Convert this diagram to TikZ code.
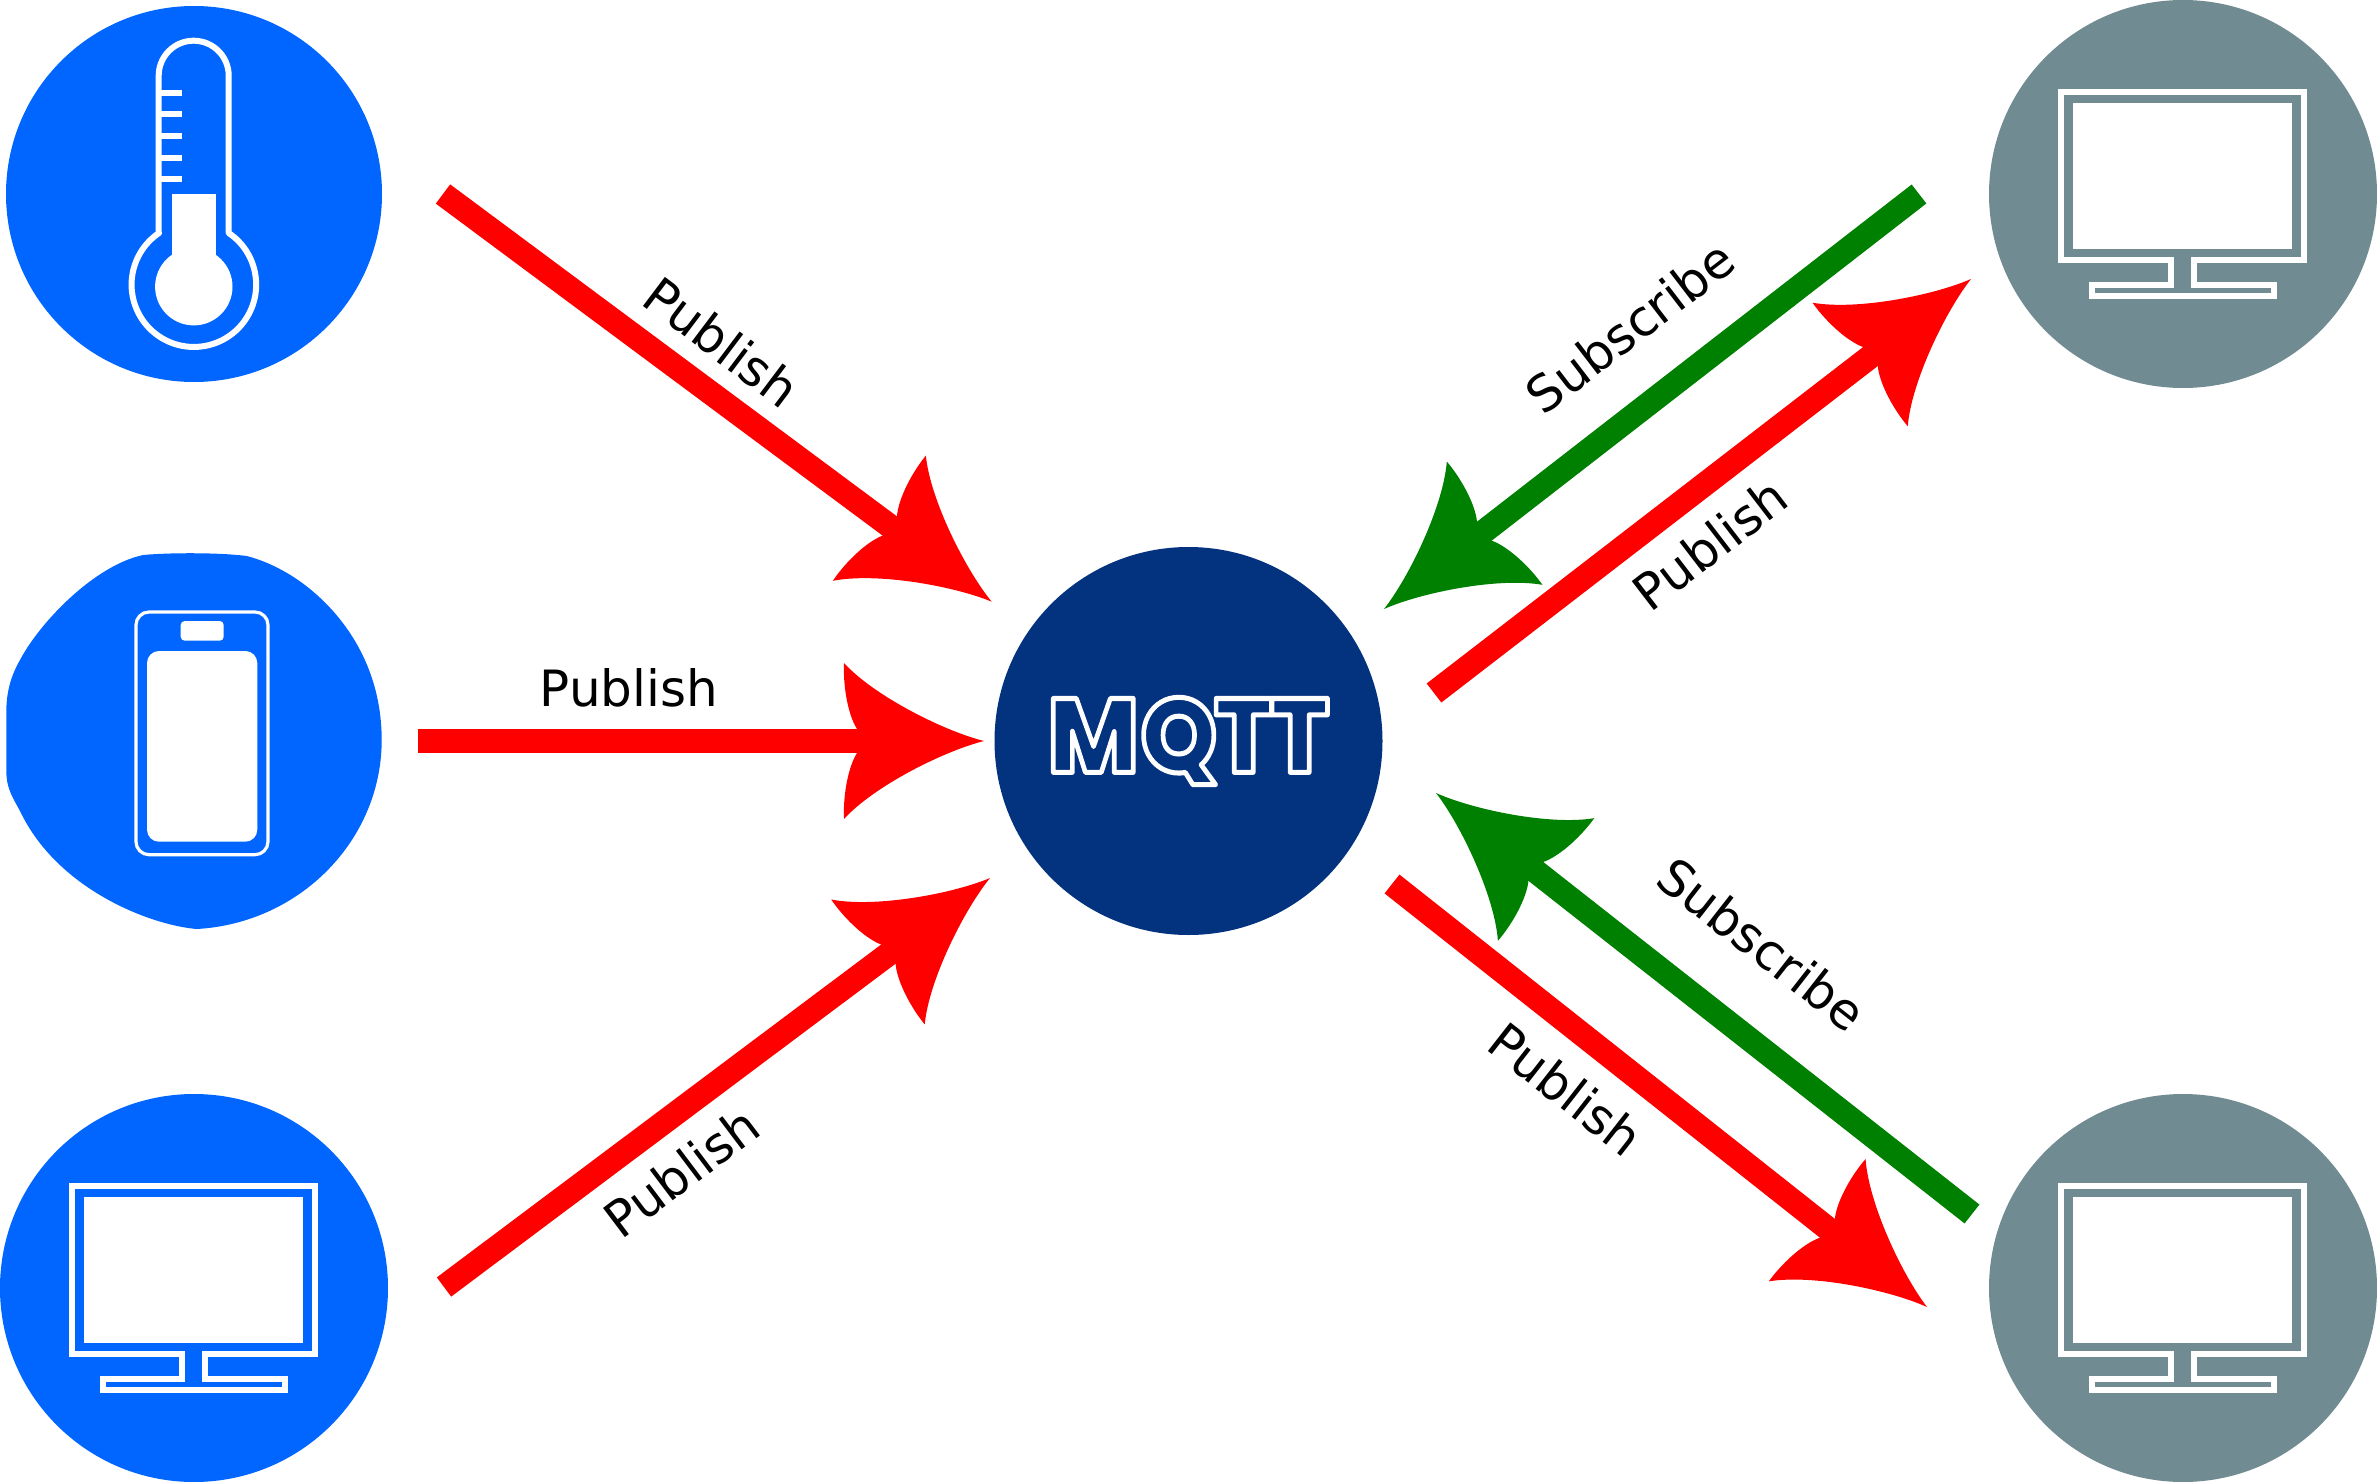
\documentclass[tikz,border=0pt]{standalone}
\usepackage{fontspec}
\setmainfont{DejaVu Sans}
\newfontfamily\mqfont{Poppins ExtraBold}
\usetikzlibrary{arrows.meta}
\definecolor{devblue}{HTML}{0066FF}
\definecolor{hostgrey}{HTML}{718B92}
\definecolor{brokerblue}{HTML}{03337F}
\definecolor{subgreen}{HTML}{008000}
\pgfdeclarearrow{
  name=MQ,
  cache=false,
  bending mode=none,
  setup code={
    \pgfarrowssettipend{0pt}
    \pgfarrowssetlineend{-122pt}
    \pgfarrowssetbackend{-140pt}
  },
  drawing code={
    \pgfsetfillcolor{pgfstrokecolor}
    \pgfpathmoveto{\pgfqpoint{0pt}{0pt}}
    \pgfpathcurveto{\pgfqpoint{-40pt}{10pt}}{\pgfqpoint{-110pt}{45pt}}{\pgfqpoint{-140pt}{78pt}}
    \pgfpathcurveto{\pgfqpoint{-141pt}{58pt}}{\pgfqpoint{-137pt}{28pt}}{\pgfqpoint{-127pt}{12pt}}
    \pgfpathlineto{\pgfqpoint{-127pt}{-12pt}}
    \pgfpathcurveto{\pgfqpoint{-137pt}{-28pt}}{\pgfqpoint{-141pt}{-58pt}}{\pgfqpoint{-140pt}{-78pt}}
    \pgfpathcurveto{\pgfqpoint{-110pt}{-45pt}}{\pgfqpoint{-40pt}{-10pt}}{\pgfqpoint{0pt}{0pt}}
    \pgfpathclose
    \pgfusepathqfill
  }
}
\newcommand{\outlined}[1]{\special{pdf:code q 1 Tr 5.2 w 1 J 1 j 1 1 1 RG}#1\special{pdf:code Q}}
\tikzset{
  x=1pt,y=1pt,
  disc/.style={circle,fill=#1,draw=none,minimum size=388pt,inner sep=0pt,outer sep=0pt},
  pub/.style={draw=red,line width=24pt,-{MQ}},
  sub/.style={draw=subgreen,line width=24pt,-{MQ}},
  lab/.style={inner sep=0pt,font=\fontsize{50}{50}\selectfont,text=black},
  iconline/.style={draw=white,line width=6pt,fill=none,miter limit=10},
  monitor/.pic={
    \draw[iconline] (-122,101.7) -- (121.3,101.7) -- (121.3,-65.7) -- (11.3,-65.7) -- (11.3,-90.7)
      -- (91,-90.7) -- (91,-102.3) -- (-91,-102.3) -- (-91,-90.7) -- (-12,-90.7) -- (-12,-65.7)
      -- (-122,-65.7) -- cycle;
    \fill[white] (-109.7,91.3) rectangle (109.3,-55);
  }
}
\begin{document}
\begin{tikzpicture}
\useasboundingbox (0,0) rectangle (2377,-1482);

% device and host discs
\node[disc=devblue,minimum size=376pt] (sensor) at (194,-194) {};
\fill[devblue] (143.3,-555) .. controls (170,-552.5) and (220,-552.5) .. (246.7,-556)
  .. controls (262,-560) and (275,-566) .. (287,-573)
  .. controls (325,-595) and (381.7,-650) .. (381.7,-740)
  .. controls (381.7,-840) and (300,-923.3) .. (196.7,-929)
  .. controls (150,-925) and (60,-890) .. (22,-815)
  .. controls (13,-797) and (6.3,-790) .. (6.3,-770)
  -- (6.3,-712)
  .. controls (6.3,-690) and (12,-674) .. (20,-660)
  .. controls (40,-622) and (95,-565) .. (143.3,-555) -- cycle;
\node[inner sep=0pt,minimum size=1pt] (phone) at (194,-741) {};
\node[disc=devblue,minimum size=388pt] (desktop) at (194,-1288) {};
\node[disc=hostgrey] (hostA) at (2183,-194) {};
\node[disc=hostgrey] (hostB) at (2183,-1288) {};
\node[disc=brokerblue] (broker) at (1188.5,-741) {\raisebox{-4pt}{\fontsize{108}{108}\selectfont\mqfont\scalebox{0.9}[0.97]{\outlined{M\kern2pt Q\kern-3pt T\kern-3pt T}}}};

% thermometer icon
\draw[iconline,line join=round] (158.7,-233) -- (158.7,-75.7) arc (180:0:35pt) -- (228.7,-233) arc (56:-236:62.3pt) -- cycle;
\foreach \ty in {93,114.3,136,157.7,179} \fill[white] (161,-\ty-3) rectangle (182,-\ty+3);
\fill[white] (172,-194) rectangle (215.7,-260);
\fill[white] (193.8,-286.7) circle (38.7pt);

% phone icon
\draw[draw=white,line width=3.2pt,rounded corners=13pt] (136,-612) rectangle (268,-854.7);
\fill[white,rounded corners=12pt] (147,-651) rectangle (257.3,-841.7);
\fill[white,rounded corners=4pt] (180.7,-621) rectangle (223.7,-640.7);

% monitor icons
\pic at (desktop) {monitor};
\pic at (hostA) {monitor};
\pic at (hostB) {monitor};

% connector ends
\coordinate (s1) at (443,-194);  \coordinate (t1) at (991.7,-601.7);
\coordinate (s2) at (418,-741);  \coordinate (t2) at (984,-741);
\coordinate (s3) at (444,-1287); \coordinate (t3) at (990,-878);
\coordinate (s4) at (1919,-194); \coordinate (t4) at (1384,-609);
\coordinate (s5) at (1434,-693); \coordinate (t5) at (1971,-279);
\coordinate (s6) at (1972,-1214);\coordinate (t6) at (1436,-793);
\coordinate (s7) at (1392,-884); \coordinate (t7) at (1927,-1307);

\draw[pub] (s1) -- (t1);
\draw[pub] (s2) -- (t2);
\draw[pub] (s3) -- (t3);
\draw[sub] (s4) -- (t4);
\draw[pub] (s5) -- (t5);
\draw[sub] (s6) -- (t6);
\draw[pub] (s7) -- (t7);

% labels
\node[lab,rotate=-37] (l1) at (722,-342) {Publish};
\node[lab] (l2) at (629,-688) {Publish};
\node[lab,rotate=37] (l3) at (681,-1172) {Publish};
\node[lab,rotate=37.5] (l4) at (1630,-327) {Subscribe};
\node[lab,rotate=37.5] (l5) at (1710,-544) {Publish};
\node[lab,rotate=-38] (l6) at (1762,-944) {Subscribe};
\node[lab,rotate=-38] (l7) at (1566,-1089) {Publish};
\end{tikzpicture}
\end{document}
